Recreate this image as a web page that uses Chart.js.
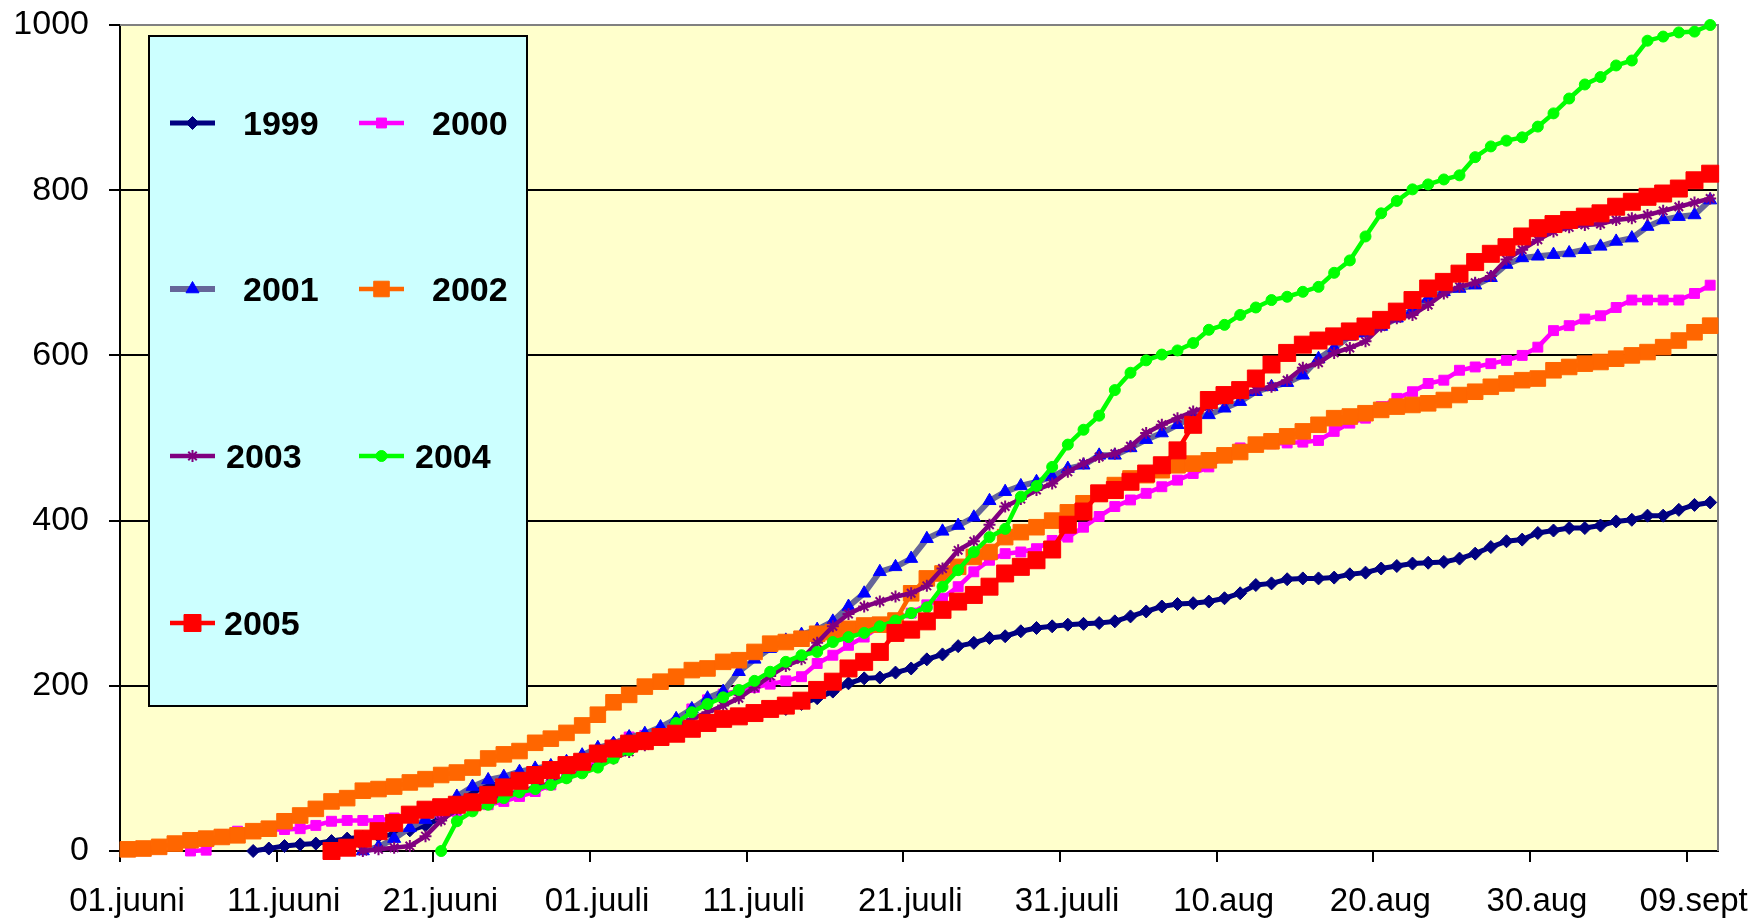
<!DOCTYPE html>
<html>
<head>
<meta charset="utf-8">
<script src="https://cdn.jsdelivr.net/npm/chart.js@4/dist/chart.umd.min.js"></script>
<style>
html,body{margin:0;padding:0;background:#ffffff;}
#wrap{width:1761px;height:922px;position:relative;}
</style>
</head>
<body>
<div id="wrap"><canvas id="c" width="1761" height="922"></canvas></div>
<script>
// ---------- DATA ----------
const tickDays = [0, 10, 20, 30, 40, 50, 60, 70, 80, 90, 100];
const tickLabels = ['01.juuni', '11.juuni', '21.juuni', '01.juuli', '11.juuli', '21.juuli', '31.juuli', '10.aug', '20.aug', '30.aug', '09.sept'];
const yTicks = [0, 200, 400, 600, 800, 1000];
const years = ['1999', '2000', '2001', '2002', '2003', '2004', '2005'];

// first day index (0 = 01.juuni) of each series
const start1999 = 8;
const start2000 = 4;
const start2001 = 15;
const start2002 = 0;
const start2003 = 15;
const start2004 = 20;
const start2005 = 13;

const v1999 = [0,3,6,8,9,12,15,17,18,20,25,31,40,58,72,78,84,90,95,100,106,114,122,130,138,140,142,146,150,155,160,163,166,170,172,178,185,193,203,209,210,216,221,232,238,248,252,258,260,266,270,272,274,275,276,278,284,290,296,299,300,302,306,312,322,324,329,330,330,331,335,337,342,345,348,349,350,354,360,368,375,377,385,388,391,391,394,399,401,406,406,413,419,422];
const v2000 = [0,1,20,24,25,26,26,27,31,36,37,37,37,40,42,44,46,48,52,56,60,66,72,80,90,98,108,124,138,140,142,155,172,183,190,194,198,202,206,211,227,237,249,259,272,280,288,298,306,320,338,352,360,362,366,376,380,392,405,417,425,433,441,449,457,465,478,488,492,493,494,495,497,508,518,524,538,548,556,566,570,582,586,590,594,600,610,630,636,644,648,658,667,667,667,667,675,685];
const v2001 = [0,5,15,28,38,50,66,78,86,90,96,100,103,108,116,125,130,138,142,150,160,172,185,193,217,232,245,255,262,268,278,296,312,338,344,354,378,387,394,404,424,435,442,447,453,463,467,479,479,488,498,506,516,526,528,536,544,556,562,567,576,596,609,623,627,635,645,655,669,677,681,685,694,710,718,720,722,724,728,732,738,742,756,764,768,770,788];
const v2002 = [2,3,5,9,13,15,17,19,24,27,36,43,51,60,64,73,75,78,83,87,92,95,101,112,117,121,131,136,143,152,165,180,189,199,205,211,219,221,229,231,241,251,253,257,263,265,269,273,274,279,312,330,336,344,356,362,380,386,392,400,410,421,433,443,451,455,461,467,469,473,479,483,492,496,502,508,516,524,526,530,534,538,540,542,546,552,556,562,566,570,572,582,586,590,592,596,600,604,610,618,628,636];
const v2003 = [0,2,4,6,18,37,50,58,63,68,72,77,82,89,96,104,112,120,128,140,150,160,168,176,185,198,212,224,232,252,272,287,296,302,308,312,321,342,364,375,395,417,426,437,445,459,469,477,481,490,506,516,524,532,538,546,552,558,562,570,585,591,603,609,617,635,645,649,661,675,683,688,696,716,728,740,750,755,758,759,764,766,770,775,780,785,790];
const v2004 = [0,36,48,56,64,71,75,80,88,94,101,112,122,130,140,155,168,178,186,195,206,217,229,237,241,253,259,264,272,279,288,295,320,340,362,380,390,429,442,465,492,510,527,558,579,594,601,606,615,631,637,649,658,667,671,677,683,700,715,744,772,787,801,807,813,818,840,853,860,864,877,893,911,928,937,951,957,981,986,991,992,1000];
const v2005 = [0,4,15,24,34,44,50,53,56,59,68,77,85,92,98,104,108,118,124,130,133,138,142,148,155,160,163,167,172,176,182,195,205,221,229,241,264,268,278,292,302,310,320,336,344,352,365,395,411,433,437,447,457,467,485,516,546,552,558,572,589,603,613,618,623,629,635,643,653,667,681,689,699,713,723,731,744,754,759,764,768,772,780,786,792,796,802,812,820];

// ---------- helpers ----------
function toPoints(start, vals) {
  // each value belongs to one day; the point sits in the middle of its day slot
  return vals.map((v, i) => ({ x: start + i + 0.5, y: v }));
}

const FONT = "'Liberation Sans', Arial, Helvetica, sans-serif";

const styles = [
  { line: '#000080', fill: '#000080', pt: 'rectRot', r: 6.5, lw: 5,   bw: 1 },
  { line: '#FF00FF', fill: '#FF00FF', pt: 'rect',    r: 7,   lw: 4.5, bw: 1 },
  { line: '#666699', fill: '#0000FF', pt: 'triangle',r: 7.5, lw: 6,   bw: 1 },
  { line: '#FF6600', fill: '#FF6600', pt: 'rect',    r: 11,  lw: 4.5, bw: 1 },
  { line: '#800080', fill: '#800080', pt: 'star',    r: 6,   lw: 4.5, bw: 2 },
  { line: '#00FF00', fill: '#00FF00', pt: 'circle',  r: 5.5, lw: 4.5, bw: 1 },
  { line: '#FF0000', fill: '#FF0000', pt: 'rect',    r: 12,  lw: 4.5, bw: 1 }
];

const seriesData = [
  toPoints(start1999, v1999),
  toPoints(start2000, v2000),
  toPoints(start2001, v2001),
  toPoints(start2002, v2002),
  toPoints(start2003, v2003),
  toPoints(start2004, v2004),
  toPoints(start2005, v2005)
];

const datasets = years.map((name, i) => ({
  label: name,
  data: seriesData[i],
  borderColor: styles[i].line,
  backgroundColor: styles[i].fill,
  borderWidth: styles[i].lw,
  pointStyle: styles[i].pt,
  pointRadius: styles[i].r,
  pointHoverRadius: styles[i].r,
  pointBackgroundColor: styles[i].fill,
  pointBorderColor: styles[i].fill,
  pointBorderWidth: styles[i].bw,
  tension: 0,
  clip: false,
  order: years.length - i   // later years drawn on top
}));

// ---------- plugins ----------
const plotBg = {
  id: 'plotBg',
  beforeDraw(chart) {
    const { ctx, chartArea: a } = chart;
    ctx.save();
    ctx.fillStyle = '#ffffff';
    ctx.fillRect(0, 0, chart.width, chart.height);
    ctx.fillStyle = '#FFFFCC';
    ctx.fillRect(a.left, a.top, a.right - a.left, a.bottom - a.top);
    ctx.restore();
  },
  beforeDatasetsDraw(chart) {
    const { ctx, chartArea: a } = chart;
    ctx.save();
    ctx.strokeStyle = '#808080';
    ctx.lineWidth = 2;
    ctx.beginPath();
    ctx.moveTo(a.left, a.top);
    ctx.lineTo(a.right, a.top);
    ctx.lineTo(a.right, a.bottom);
    ctx.stroke();
    ctx.restore();
  }
};

// legend layout (positions only)
const legendBox = { x: 149, y: 36, w: 378, h: 670 };
const legendRowY = [123, 289, 456, 623];
const legendLineX = [[170, 215], [359, 404]];
const legendTextX = [[243, 432], [243, 432], [226, 415], [224, 415]];

const boxLegend = {
  id: 'boxLegend',
  afterDraw(chart) {
    const { ctx } = chart;
    ctx.save();
    ctx.fillStyle = '#CCFFFF';
    ctx.fillRect(legendBox.x, legendBox.y, legendBox.w, legendBox.h);
    ctx.strokeStyle = '#000000';
    ctx.lineWidth = 2;
    ctx.strokeRect(legendBox.x, legendBox.y, legendBox.w, legendBox.h);
    years.forEach((name, i) => {
      const row = Math.floor(i / 2), col = i % 2;
      const y = legendRowY[row];
      const [x0, x1] = legendLineX[col];
      const st = styles[i];
      ctx.strokeStyle = st.line;
      ctx.lineWidth = st.lw;
      ctx.beginPath();
      ctx.moveTo(x0, y);
      ctx.lineTo(x1, y);
      ctx.stroke();
      ctx.fillStyle = st.fill;
      ctx.strokeStyle = st.fill;
      ctx.lineWidth = st.bw;
      Chart.helpers.drawPoint(ctx, { pointStyle: st.pt, radius: st.r, rotation: 0, borderWidth: st.bw }, (x0 + x1) / 2, y);
      ctx.fillStyle = '#000000';
      ctx.font = 'bold 34px ' + FONT;
      ctx.textAlign = 'left';
      ctx.textBaseline = 'alphabetic';
      ctx.fillText(name, legendTextX[row][col], y + 12);
    });
    ctx.restore();
  }
};

// ---------- chart ----------
new Chart(document.getElementById('c'), {
  type: 'line',
  data: { datasets },
  options: {
    responsive: false,
    devicePixelRatio: 1,
    animation: false,
    events: [],
    layout: { padding: { top: 25, right: 43, left: 0, bottom: 0 } },
    plugins: { legend: { display: false }, tooltip: { enabled: false } },
    scales: {
      x: {
        type: 'linear',
        min: 0,
        max: 102,
        afterBuildTicks(scale) { scale.ticks = tickDays.map(v => ({ value: v })); },
        afterFit(scale) { scale.height = 71; scale.paddingLeft = 0; scale.paddingRight = 0; },
        border: { display: true, color: '#000000', width: 2 },
        grid: { drawOnChartArea: false, drawTicks: true, tickLength: 11, color: '#000000', lineWidth: 2 },
        ticks: {
          autoSkip: false,
          maxRotation: 0,
          padding: 20,
          labelOffset: 7,
          color: '#000000',
          font: { family: FONT, size: 33 },
          callback(value) {
            const k = tickDays.indexOf(value);
            return k >= 0 ? tickLabels[k] : '';
          }
        }
      },
      y: {
        min: 0,
        max: 1000,
        afterBuildTicks(scale) { scale.ticks = yTicks.map(v => ({ value: v })); },
        afterFit(scale) { scale.width = 120; scale.paddingTop = 0; scale.paddingBottom = 0; },
        border: { display: true, color: '#000000', width: 2 },
        grid: {
          drawOnChartArea: true,
          drawTicks: true,
          tickLength: 11,
          tickColor: '#000000',
          lineWidth: 2,
          color(ctx) { return ctx.tick && ctx.tick.value === 1000 ? '#808080' : '#000000'; }
        },
        ticks: {
          padding: 20,
          color: '#000000',
          font: { family: FONT, size: 34 },
          callback(value) { return String(value); }
        }
      }
    }
  },
  plugins: [plotBg, boxLegend]
});
</script>
</body>
</html>
